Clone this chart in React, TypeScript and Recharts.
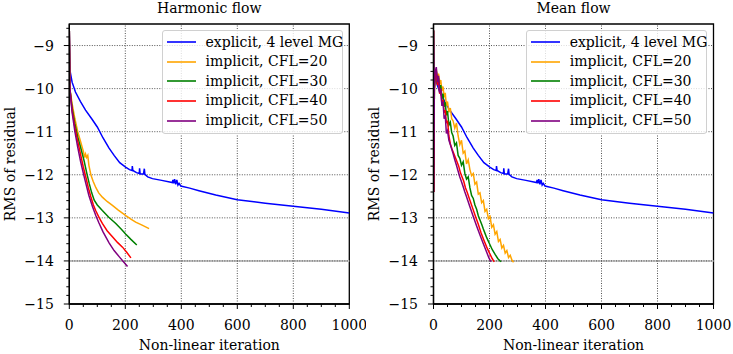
import React from 'react';
import {
	LineChart,
	Line,
	XAxis,
	YAxis,
	ReferenceLine,
	ReferenceArea,
	Legend,
} from 'recharts';

type Pt = [number, number];

// explicit run, identical in both panels
const explicitMG: Pt[] = [
	[0, -8.65], [3, -9.6], [10, -9.85], [22, -10.08], [40, -10.3], [58, -10.5],
	[80, -10.7], [100, -10.89], [120, -11.14], [142, -11.38], [160, -11.55],
	[180, -11.72], [201, -11.82], [215, -11.88], [224, -11.9], [225, -11.8],
	[227, -11.9], [240, -11.95], [250, -11.97], [251, -11.85], [253, -11.98],
	[265, -11.98], [268, -11.86], [270, -11.99], [280, -12.05], [297, -12.09],
	[330, -12.13], [368, -12.18], [370, -12.12], [373, -12.2], [376, -12.1],
	[380, -12.22], [384, -12.12], [388, -12.24], [392, -12.2], [398, -12.26],
	[430, -12.31], [463, -12.37], [523, -12.47], [600, -12.58], [700, -12.66],
	[800, -12.73], [900, -12.8], [1000, -12.89],
];

// harmonic flow, implicit
const harmCfl20: Pt[] = [
	[0, -8.65], [2, -10.0], [10, -10.35], [20, -10.7], [30, -11.0], [40, -11.22],
	[50, -11.45], [55, -11.6], [58, -11.52], [62, -11.6], [66, -11.55], [70, -11.78],
	[77, -12.0], [85, -12.15], [95, -12.3], [105, -12.42], [118, -12.52], [135, -12.62],
	[154, -12.71], [175, -12.82], [202, -12.95], [220, -13.03], [237, -13.1],
	[260, -13.17], [285, -13.25],
];
const harmCfl30: Pt[] = [
	[0, -8.65], [2, -10.0], [10, -10.45], [20, -10.82], [30, -11.12], [41, -11.38],
	[53, -11.68], [62, -11.95], [71, -12.2], [80, -12.42], [89, -12.59], [100, -12.7],
	[118, -12.83], [140, -12.98], [166, -13.13], [185, -13.26], [202, -13.38],
	[220, -13.5], [241, -13.63],
];
const harmCfl40: Pt[] = [
	[0, -8.65], [2, -10.0], [10, -10.5], [20, -10.9], [30, -11.22], [40, -11.52],
	[50, -11.82], [60, -12.08], [68, -12.3], [77, -12.51], [86, -12.7], [95, -12.84],
	[106, -12.99], [118, -13.13], [135, -13.3], [154, -13.44], [172, -13.57],
	[190, -13.68], [205, -13.8], [220, -13.93],
];
const harmCfl50: Pt[] = [
	[0, -8.65], [2, -10.0], [10, -10.55], [20, -11.0], [30, -11.36], [40, -11.68],
	[50, -11.96], [59, -12.2], [70, -12.48], [83, -12.74], [95, -12.95], [106, -13.12],
	[120, -13.32], [142, -13.58], [160, -13.76], [178, -13.9], [195, -14.03], [208, -14.13],
];

// mean flow, implicit
const meanCfl20: Pt[] = [
	[0, -8.65], [1, -12.4], [3, -10.0], [6, -9.7], [10, -9.55], [14, -9.8], [18, -9.65],
	[22, -9.9], [26, -9.8], [30, -10.05], [34, -9.95], [38, -10.2], [42, -10.1],
	[46, -10.4], [50, -10.3], [55, -10.55], [60, -10.45], [65, -10.7], [70, -10.75],
	[76, -10.92], [82, -10.8], [88, -11.1], [94, -11.3], [100, -11.2], [106, -11.5],
	[112, -11.45], [118, -11.75], [124, -11.65], [130, -11.88], [136, -12.02],
	[142, -11.97], [148, -12.22], [154, -12.17], [160, -12.45], [166, -12.42],
	[172, -12.65], [178, -12.6], [184, -12.85], [190, -12.8], [196, -13.02],
	[202, -12.97], [208, -13.22], [214, -13.16], [220, -13.38], [226, -13.32],
	[232, -13.55], [238, -13.5], [244, -13.7], [250, -13.64], [256, -13.82],
	[262, -13.76], [268, -13.92], [274, -13.87], [280, -13.98], [286, -14.03],
];
const meanCfl30: Pt[] = [
	[0, -8.65], [1, -12.4], [3, -10.0], [6, -9.75], [10, -9.6], [14, -9.88], [18, -9.75],
	[22, -10.02], [26, -9.92], [30, -10.22], [34, -10.12], [38, -10.42], [42, -10.32],
	[46, -10.62], [50, -10.52], [55, -10.85], [60, -10.78], [65, -11.02], [70, -11.1],
	[76, -11.32], [82, -11.26], [88, -11.55], [94, -11.62], [100, -11.78], [106, -11.7],
	[112, -11.97], [118, -12.1], [124, -12.05], [130, -12.3], [136, -12.48],
	[142, -12.55], [148, -12.7], [154, -12.8], [160, -12.95], [166, -13.05],
	[172, -13.15], [178, -13.26], [184, -13.36], [190, -13.46], [200, -13.6],
	[210, -13.74], [220, -13.85], [230, -13.95], [241, -14.02],
];
const meanCfl40: Pt[] = [
	[0, -8.65], [1, -12.4], [3, -10.0], [6, -9.7], [10, -9.6], [14, -9.92], [18, -9.8],
	[22, -10.12], [26, -10.02], [30, -10.36], [34, -10.26], [38, -10.56], [42, -10.5],
	[46, -10.8], [50, -10.74], [55, -11.1], [60, -11.28], [66, -11.4], [72, -11.5],
	[78, -11.6], [84, -11.7], [90, -11.8], [96, -11.95], [102, -12.05], [108, -12.15],
	[114, -12.3], [120, -12.4], [130, -12.59], [140, -12.78], [150, -12.97],
	[160, -13.15], [170, -13.35], [180, -13.52], [190, -13.68], [200, -13.82],
	[210, -13.95], [217, -14.02],
];
const meanCfl50: Pt[] = [
	[0, -8.65], [1, -12.4], [3, -10.0], [6, -9.6], [10, -9.5], [14, -9.85], [18, -9.7],
	[22, -10.1], [26, -10.0], [30, -10.4], [34, -10.3], [38, -10.7], [42, -10.62],
	[46, -11.04], [50, -10.98], [55, -11.2], [60, -11.3], [65, -11.4], [70, -11.51],
	[76, -11.65], [82, -11.78], [88, -11.92], [94, -12.05], [100, -12.16], [106, -12.28],
	[112, -12.4], [118, -12.51], [130, -12.74], [142, -12.97], [154, -13.19],
	[166, -13.4], [178, -13.6], [190, -13.8], [198, -13.93], [205, -14.02],
];

const seriesNames = [
	'explicit, 4 level MG',
	'implicit, CFL=20',
	'implicit, CFL=30',
	'implicit, CFL=40',
	'implicit, CFL=50',
];
const seriesColors = ['#0000ff', '#ffa500', '#008000', '#ff0000', '#800080'];

const xMajor = [0, 200, 400, 600, 800, 1000];
const yMajor = [-15, -14, -13, -12, -11, -10, -9];
const xTicks = Array.from({ length: 21 }, (_, i) => i * 50);
const yTicks = Array.from({ length: 33 }, (_, i) => Math.round((-15 + i * 0.2) * 10) / 10);

const FONT = "'DejaVu Serif', serif";
const PLOT_W = 280;
const PLOT_H = 280;

const isMajorY = (v: number) => Math.abs(v - Math.round(v)) < 1e-6;
const minus = (v: number) => (v < 0 ? '\u2212' + Math.abs(v) : String(v));

const XTick = (props: any) => {
	const { x, y, payload } = props;
	const major = xMajor.includes(payload.value);
	return (
		<g>
			<line x1={x} x2={x} y1={y} y2={y + (major ? 5 : 3)} stroke="#000" strokeWidth={1} />
			{major && (
				<text x={x} y={y + 26} textAnchor="middle" fontFamily={FONT} fontSize={14} fill="#000">
					{payload.value}
				</text>
			)}
		</g>
	);
};

const YTick = (props: any) => {
	const { x, y, payload } = props;
	const major = isMajorY(payload.value);
	return (
		<g>
			<line x1={x - (major ? 5.5 : 3)} x2={x} y1={y} y2={y} stroke="#000" strokeWidth={1} />
			{major && (
				<text x={x - 15.5} y={y + 5} textAnchor="end" fontFamily={FONT} fontSize={14} fill="#000">
					{minus(Math.round(payload.value))}
				</text>
			)}
		</g>
	);
};

const LegendBox = () => (
	<div
		style={{
			width: 179,
			height: 100,
			border: '1px solid #d0d0d0',
			borderRadius: 3,
			background: 'rgba(255,255,255,0.8)',
			paddingTop: 2,
			boxSizing: 'content-box',
			fontFamily: FONT,
			fontSize: 14,
		}}
	>
		{seriesNames.map((name, i) => (
			<div key={name} style={{ display: 'flex', alignItems: 'center', height: 19.6 }}>
				<svg width={33} height={10} style={{ marginLeft: 2, flex: 'none' }}>
					<line x1={2} x2={31} y1={5} y2={5} stroke={seriesColors[i]} strokeWidth={1.6} />
				</svg>
				<span style={{ marginLeft: 8, lineHeight: '19.6px', whiteSpace: 'nowrap' }}>{name}</span>
			</div>
		))}
	</div>
);

function Panel({
	title,
	series,
	left,
	plotLeft,
}: {
	title: string;
	series: Pt[][];
	left: number;
	plotLeft: number;
}) {
	const width = 366;
	const height = 354;
	return (
		<div style={{ position: 'absolute', left, top: 0, width, height }}>
			<div
				style={{
					position: 'absolute',
					left: plotLeft,
					top: 1,
					width: PLOT_W,
					textAlign: 'center',
					fontFamily: FONT,
					fontSize: 14,
					lineHeight: '14px',
					whiteSpace: 'nowrap',
				}}
			>
				{title}
			</div>
			<LineChart
				width={width}
				height={height}
				margin={{ top: 24, right: width - plotLeft - PLOT_W, bottom: 0, left: 0 }}
			>
				<XAxis
					dataKey="x"
					type="number"
					domain={[0, 1000]}
					ticks={xTicks}
					interval={0}
					allowDataOverflow
					height={height - 24 - PLOT_H}
					tickSize={0}
					tickMargin={0}
					tick={<XTick />}
					axisLine={{ stroke: '#000', strokeWidth: 1.3 }}
					label={(p: any) => {
						const vb = p.viewBox;
						return (
							<text
								x={vb.x + vb.width / 2}
								y={vb.y + 46}
								textAnchor="middle"
								fontFamily={FONT}
								fontSize={14}
								fill="#000"
							>
								Non-linear iteration
							</text>
						);
					}}
				/>
				<YAxis
					dataKey="y"
					type="number"
					domain={[-15, -8.5]}
					ticks={yTicks}
					interval={0}
					allowDataOverflow
					width={plotLeft}
					tickSize={0}
					tickMargin={0}
					tick={<YTick />}
					axisLine={{ stroke: '#000', strokeWidth: 1.3 }}
					label={(p: any) => {
						const vb = p.viewBox;
						const lx = plotLeft - 54.5;
						const ly = vb.y + vb.height / 2;
						return (
							<text
								x={lx}
								y={ly}
								transform={`rotate(-90, ${lx}, ${ly})`}
								textAnchor="middle"
								fontFamily={FONT}
								fontSize={14}
								fill="#000"
							>
								RMS of residual
							</text>
						);
					}}
				/>
				<ReferenceLine y={-14} stroke="#c8c8c8" strokeWidth={2} />
				{yMajor.slice(1).map((v) => (
					<ReferenceLine key={`gy${v}`} y={v} stroke="#404040" strokeWidth={0.9} strokeDasharray="1 1.5" />
				))}
				{xMajor.slice(1, -1).map((v) => (
					<ReferenceLine key={`gx${v}`} x={v} stroke="#404040" strokeWidth={0.9} strokeDasharray="1 1.5" />
				))}
				{series.map((s, i) => (
					<Line
						key={seriesNames[i]}
						data={s.map(([x, y]) => ({ x, y }))}
						dataKey="y"
						name={seriesNames[i]}
						type="linear"
						stroke={seriesColors[i]}
						strokeWidth={1.5}
						dot={false}
						activeDot={false}
						isAnimationActive={false}
					/>
				))}
				<ReferenceArea
					x1={0}
					x2={1000}
					y1={-15}
					y2={-8.5}
					fill="none"
					fillOpacity={0}
					stroke="#000"
					strokeWidth={1.3}
				/>
				<Legend
					layout="vertical"
					align="center"
					verticalAlign="middle"
					wrapperStyle={{ left: plotLeft + 92.2, top: 29.5, width: 181, height: 104 }}
					content={() => <LegendBox />}
				/>
			</LineChart>
		</div>
	);
}

export default function App() {
	return (
		<div
			style={{
				position: 'absolute',
				left: 0,
				top: 0,
				width: 733,
				height: 354,
				background: '#fff',
			}}
		>
			<Panel
				title="Harmonic flow"
				left={0}
				plotLeft={69.3}
				series={[explicitMG, harmCfl20, harmCfl30, harmCfl40, harmCfl50]}
			/>
			<Panel
				title="Mean flow"
				left={366}
				plotLeft={67.5}
				series={[explicitMG, meanCfl20, meanCfl30, meanCfl40, meanCfl50]}
			/>
		</div>
	);
}
